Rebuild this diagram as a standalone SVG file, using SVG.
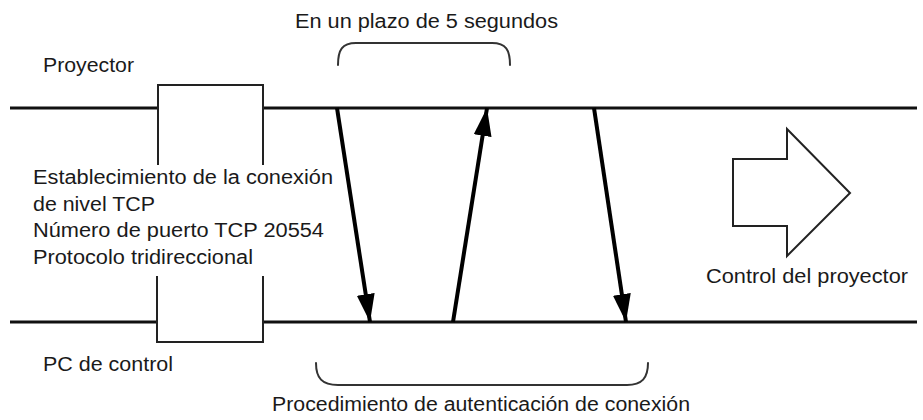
<svg xmlns="http://www.w3.org/2000/svg" width="923" height="420" viewBox="0 0 923 420">
<style>
  .t { font-family: "Liberation Sans", Arial, sans-serif; font-size: 20px; fill: #1a1a1a; }
  .lane { stroke: #111; stroke-width: 3; fill: none; }
  .box { stroke: #222; stroke-width: 2; fill: none; }
  .msg { stroke: #000; stroke-width: 4; fill: none; }
  .brace { stroke: #333; stroke-width: 2; fill: none; stroke-linecap: round; }
</style>
<defs>
  <marker id="ah" markerUnits="userSpaceOnUse" markerWidth="28" markerHeight="18" refX="28" refY="9" orient="auto">
    <path d="M0,0 L28,9 L0,18 z" fill="#000"/>
  </marker>
</defs>
<rect width="923" height="420" fill="#fff"/>

<g id="projector-lane">
  <path class="lane" d="M10,108 H158 M263,108 H917"/>
  <text class="t" x="43" y="72" textLength="91" lengthAdjust="spacingAndGlyphs">Proyector</text>
</g>
<g id="pc-lane">
  <path class="lane" d="M10,322 H157 M263,322 H917"/>
  <text class="t" x="43" y="371" textLength="130" lengthAdjust="spacingAndGlyphs">PC de control</text>
</g>

<g id="tcp-box">
  <path class="box" d="M158,165 V85 H263 V165"/>
  <path class="box" d="M157,276 V342 H263 V276"/>
  <text class="t" x="33" y="184" textLength="300" lengthAdjust="spacingAndGlyphs">Establecimiento de la conexión</text>
  <text class="t" x="33" y="211" textLength="122" lengthAdjust="spacingAndGlyphs">de nivel TCP</text>
  <text class="t" x="33" y="237" textLength="291" lengthAdjust="spacingAndGlyphs">Número de puerto TCP 20554</text>
  <text class="t" x="33" y="264" textLength="220" lengthAdjust="spacingAndGlyphs">Protocolo tridireccional</text>
</g>

<g id="timeout">
  <path class="brace" d="M338,65 C338,50 342,43 356,43 H492 C506,43 510,50 510,65"/>
  <text class="t" x="295" y="28" textLength="263" lengthAdjust="spacingAndGlyphs">En un plazo de 5 segundos</text>
</g>

<g id="auth">
  <path class="brace" d="M316,363 C316,378 322,385 338,385 H627 C642,385 648,378 648,363"/>
  <text class="t" x="481" y="411" text-anchor="middle" textLength="418" lengthAdjust="spacingAndGlyphs">Procedimiento de autenticación de conexión</text>
</g>

<g id="control">
  <polygon class="box" points="733,159 787,159 787,129 850,193 787,256 787,226 733,226" fill="#fff"/>
  <text class="t" x="706" y="283" textLength="202" lengthAdjust="spacingAndGlyphs">Control del proyector</text>
</g>

<g id="connectors">
  <line class="msg" x1="337" y1="108" x2="370" y2="322" marker-end="url(#ah)"/>
  <line class="msg" x1="453" y1="322" x2="487" y2="108" marker-end="url(#ah)"/>
  <line class="msg" x1="594" y1="108" x2="626" y2="322" marker-end="url(#ah)"/>
</g>
</svg>
